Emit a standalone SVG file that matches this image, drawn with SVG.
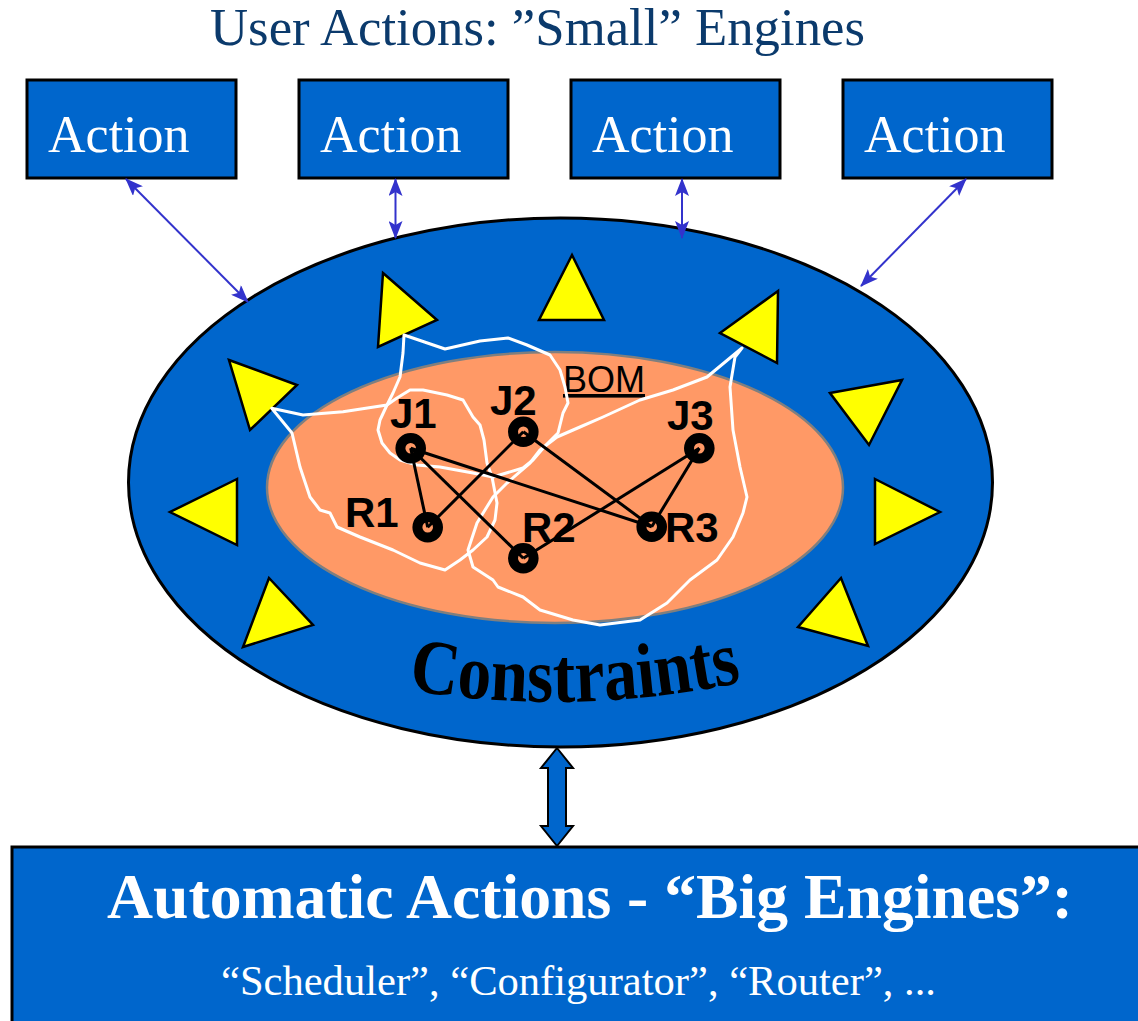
<svg xmlns="http://www.w3.org/2000/svg" width="1138" height="1021" viewBox="0 0 1138 1021">
  <style>
    .box { fill: #0066cc; stroke: #000; stroke-width: 3; }
    .boxText { font-family: "Liberation Serif", "Times New Roman", serif; font-size: 52px; fill: #fff; }
    .tri { fill: #ffff00; stroke: #000; stroke-width: 2.5; stroke-linejoin: miter; }
    .ring { fill: none; stroke: #000; stroke-width: 10; }
    .lbl { font-family: "Liberation Sans", Arial, sans-serif; font-weight: bold; font-size: 42px; fill: #000; }
    .edge { stroke: #000; stroke-width: 3; }
    .link { stroke: #3333cc; stroke-width: 2; fill: none; marker-start: url(#head); marker-end: url(#head); }
    .lasso { fill: none; stroke: #fff; stroke-width: 3; stroke-linejoin: round; }
  </style>
  <defs>
    <marker id="head" viewBox="0 0 18 14" refX="17" refY="7" markerWidth="18" markerHeight="14" markerUnits="userSpaceOnUse" orient="auto-start-reverse">
      <path d="M0,0 L18,7 L0,14 L4,7 z" fill="#3333cc"/>
    </marker>
    <path id="arcPath" d="M408,690 Q580,718 752,680"/>
  </defs>

  <rect width="1138" height="1021" fill="#fff"/>

  <!-- title -->
  <text x="210" y="45" font-family="Liberation Serif, Times New Roman, serif" font-size="53" fill="#0b3a6c" textLength="655" lengthAdjust="spacingAndGlyphs">User Actions: ”Small” Engines</text>

  <!-- user action boxes -->
  <g id="action1"><rect class="box" x="27" y="80" width="209" height="98"/><text class="boxText" x="48" y="152">Action</text></g>
  <g id="action2"><rect class="box" x="299" y="80" width="209" height="98"/><text class="boxText" x="320" y="152">Action</text></g>
  <g id="action3"><rect class="box" x="571" y="80" width="209" height="98"/><text class="boxText" x="592" y="152">Action</text></g>
  <g id="action4"><rect class="box" x="843" y="80" width="209" height="98"/><text class="boxText" x="864" y="152">Action</text></g>

  <!-- constraint space -->
  <g id="constraints">
    <ellipse cx="560.5" cy="482.5" rx="432" ry="264.5" fill="#0066cc" stroke="#000" stroke-width="3"/>
    <text font-family="Liberation Serif, Times New Roman, serif" font-weight="bold" font-size="78" fill="#000">
      <textPath href="#arcPath" textLength="336" lengthAdjust="spacingAndGlyphs">Constraints</textPath>
    </text>
  </g>

  <!-- constraint markers -->
  <g id="triangles">
    <polygon class="tri" points="383,273 437,320 378,347"/>
    <polygon class="tri" points="572,255 539,320 604,320"/>
    <polygon class="tri" points="778,291 720,333 777,363"/>
    <polygon class="tri" points="229,360 297,385 250,430"/>
    <polygon class="tri" points="830,393 902,380 869,445"/>
    <polygon class="tri" points="237,479 170,512 237,545"/>
    <polygon class="tri" points="875,479 940,512 875,544"/>
    <polygon class="tri" points="269,578 313,625 243,647"/>
    <polygon class="tri" points="841,578 798,627 868,646"/>
  </g>

  <!-- bill of materials -->
  <g id="bom">
    <ellipse cx="555" cy="487.5" rx="288" ry="135.5" fill="#ff9966" stroke="#7f7f7f" stroke-width="2.5"/>
    <text x="563" y="392" font-family="Liberation Sans, Arial, sans-serif" font-size="36" fill="#000" text-decoration="underline">BOM</text>
  </g>

  <!-- lasso outlines from the markers -->
  <g id="lassos">
    <path class="lasso" d="M271.7,408.3 L303,415 L343,411.7 L387,405 L397,398 L410,390 L423,390 L447,395 L463,400 L473,417 L480,425 L484,440 L487,463 L492,477 L497,503 L495,520 L487,537 L473,550 L460,560 L445,570 L420,563 L393,550 L360,537 L337,527 L330,513 L320,510 L310,497 L300,467 L292,433 Z"/>
    <path class="lasso" d="M404,335 L445,349 L480,341 L508,338 L527,345 L550,355 L560,370 L565,387 L568,403 L563,413 L558,433 L545,446 L533,460 L523,468 L493,477 L473,473 L440,467 L417,465 L400,460 L390,453 L382,443 L378,430 L380,420 L387,405 L393,393 L400,377 L403,353 Z"/>
    <path class="lasso" d="M742,348 L707,377 L673,390 L640,400 L603,417 L580,427 L557,437 L540,450 L530,463 L507,483 L493,497 L477,523 L468,550 L473,567 L493,580 L498,587 L523,597 L540,610 L573,620 L600,625 L640,620 L667,603 L690,580 L717,560 L733,537 L743,513 L747,497 L740,467 L733,430 L730,387 L735,357 Z"/>
  </g>

  <!-- connectors -->
  <g id="connectors">
    <line class="link" x1="126" y1="179" x2="248" y2="302"/>
    <line class="link" x1="395.5" y1="179" x2="395.5" y2="238"/>
    <line class="link" x1="682" y1="179" x2="682" y2="238"/>
    <line class="link" x1="966" y1="179" x2="861" y2="286"/>
    <polygon points="557,748 573,768 566,768 566,826 573,826 557,846 541,826 548,826 548,768 541,768" fill="#0066cc" stroke="#000" stroke-width="2"/>
    <line class="edge" x1="410.7" y1="448.3" x2="427.7" y2="527.3"/>
    <line class="edge" x1="410.7" y1="448.3" x2="523.3" y2="558.3"/>
    <line class="edge" x1="410.7" y1="448.3" x2="651.7" y2="526.7"/>
    <line class="edge" x1="523.3" y1="431.7" x2="427.7" y2="527.3"/>
    <line class="edge" x1="523.3" y1="431.7" x2="651.7" y2="526.7"/>
    <line class="edge" x1="699.3" y1="448.3" x2="523.3" y2="558.3"/>
    <line class="edge" x1="699.3" y1="448.3" x2="651.7" y2="526.7"/>
  </g>

  <!-- jobs and resources -->
  <g id="J1"><circle class="ring" cx="410.7" cy="448.3" r="10.3"/><text class="lbl" x="390" y="428">J1</text></g>
  <g id="J2"><circle class="ring" cx="523.3" cy="431.7" r="10.3"/><text class="lbl" x="490" y="415">J2</text></g>
  <g id="J3"><circle class="ring" cx="699.3" cy="448.3" r="10.3"/><text class="lbl" x="667" y="430">J3</text></g>
  <g id="R1"><circle class="ring" cx="427.7" cy="527.3" r="10.3"/><text class="lbl" x="345" y="527">R1</text></g>
  <g id="R2"><circle class="ring" cx="523.3" cy="558.3" r="10.3"/><text class="lbl" x="522" y="542">R2</text></g>
  <g id="R3"><circle class="ring" cx="651.7" cy="526.7" r="10.3"/><text class="lbl" x="665" y="542">R3</text></g>

  <!-- automatic engines -->
  <g id="engines">
    <rect x="12" y="847" width="1140" height="190" fill="#0066cc" stroke="#000" stroke-width="3"/>
    <text x="107" y="918" font-family="Liberation Serif, Times New Roman, serif" font-weight="bold" font-size="64" fill="#fff" textLength="966" lengthAdjust="spacingAndGlyphs">Automatic Actions - “Big Engines”:</text>
    <text x="221" y="995" font-family="Liberation Serif, Times New Roman, serif" font-size="42" fill="#fff" textLength="715" lengthAdjust="spacingAndGlyphs">“Scheduler”, “Configurator”, “Router”, ...</text>
  </g>
</svg>
